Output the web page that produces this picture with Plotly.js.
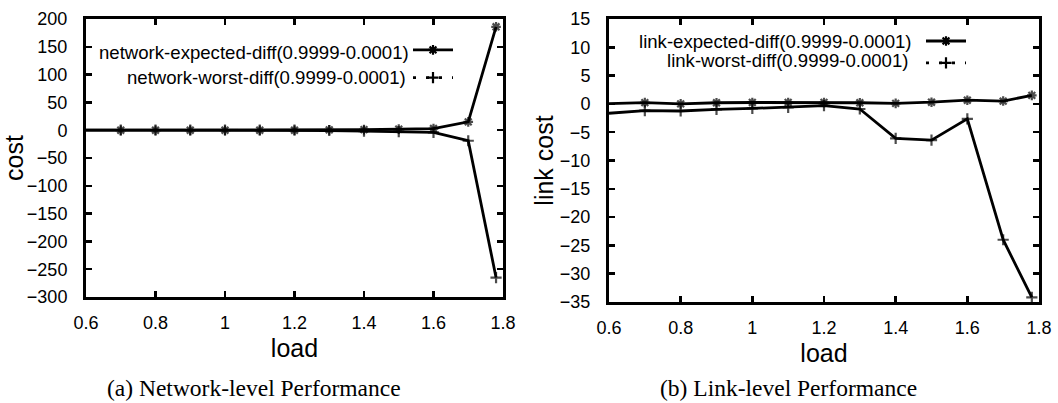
<!DOCTYPE html>
<html><head><meta charset="utf-8">
<script src="https://cdn.plot.ly/plotly-3.0.1.min.js"></script>
<style>html,body{margin:0;padding:0;background:#fff}#chart{width:1058px;height:403px}</style>
</head><body><div id="chart"></div><script>
// ---- data ----
const load = [0.6, 0.7, 0.8, 0.9, 1.0, 1.1, 1.2, 1.3, 1.4, 1.5, 1.6, 1.7, 1.78];
const networkExpected = [0, 0, 0, 0, 0, 0, 0, 0.5, 1, 2, 3, 15, 186];
const networkWorst    = [0, 0, 0, 0, 0, 0, 0, -0.5, -1.5, -2.5, -4, -19, -265];
const linkExpected = [0.05, 0.23, 0.0, 0.2, 0.25, 0.25, 0.25, 0.2, 0.1, 0.3, 0.65, 0.5, 1.5];
const linkWorst    = [-1.65, -1.2, -1.25, -0.95, -0.8, -0.6, -0.3, -0.9, -6.1, -6.4, -2.65, -24, -34.2];
const xTicks = [0.6, 0.8, 1.0, 1.2, 1.4, 1.6, 1.8];
const netLegend = ['network-expected-diff(0.9999-0.0001)', 'network-worst-diff(0.9999-0.0001)'];
const linkLegend = ['link-expected-diff(0.9999-0.0001)', 'link-worst-diff(0.9999-0.0001)'];
const captions = ['(a) Network-level Performance', '(b) Link-level Performance'];
const yTitles = ['cost', 'link cost'];
const xTitle = 'load';

// ---- styles ----
const W = 1058, H = 403;
const SANS = 'Liberation Sans, Arial, Helvetica, sans-serif';
const SERIF = 'Liberation Serif, Times New Roman, serif';
const firstHidden = load.map((v, i) => i === 0 ? 0 : 8);
function px(x) { return x / W; }
function py(y) { return 1 - y / H; }

function series(x, y, xa, ya, symbol, name) {
  return {x: x, y: y, xaxis: xa, yaxis: ya, type: 'scatter', mode: 'lines+markers',
    name: name, showlegend: false, hoverinfo: 'x+y',
    line: {color: '#000', width: 2.8},
    marker: {symbol: symbol, size: firstHidden, color: '#000', line: {color: '#000', width: 2.2}}};
}
function legendSample(legend, symbol, dash) {
  return {x: [null], y: [null], type: 'scatter', mode: 'lines+markers', name: '',
    legend: legend, showlegend: true, hoverinfo: 'skip',
    line: {color: '#000', width: 2.8, dash: dash},
    marker: {symbol: symbol, size: 8, color: '#000', line: {color: '#000', width: 2.2}}};
}

const traces = [
  series(load, networkExpected, 'x', 'y', 'asterisk-open', netLegend[0]),
  series(load, networkWorst, 'x', 'y', 'cross-thin-open', netLegend[1]),
  series(load, linkExpected, 'x2', 'y2', 'asterisk-open', linkLegend[0]),
  series(load, linkWorst, 'x2', 'y2', 'cross-thin-open', linkLegend[1]),
  legendSample('legend', 'asterisk-open', 'solid'),
  legendSample('legend', 'cross-thin-open', '3px,10px'),
  legendSample('legend2', 'asterisk-open', 'solid'),
  legendSample('legend2', 'cross-thin-open', '3px,10px')
];

function xAxis(domain, anchor) {
  return {domain: domain, anchor: anchor, range: [0.6, 1.8], tickvals: xTicks,
    ticks: 'inside', ticklen: 6, tickwidth: 2.5, tickcolor: '#000', mirror: 'ticks',
    showline: true, linecolor: '#000', linewidth: 3, showgrid: false, zeroline: false,
    ticklabelstandoff: 7, tickfont: {family: SANS, size: 18, color: '#000'},
    title: {text: xTitle, standoff: 8, font: {family: SANS, size: 25, color: '#000'}},
    automargin: false, fixedrange: true};
}
function yAxis(domain, anchor, range, dtick, title, standoff) {
  return {domain: domain, anchor: anchor, range: range, dtick: dtick, tick0: 0,
    ticks: 'inside', ticklen: 6, tickwidth: 2.5, tickcolor: '#000', mirror: 'ticks',
    showline: true, linecolor: '#000', linewidth: 3, showgrid: false, zeroline: false,
    ticklabelstandoff: 12, tickfont: {family: SANS, size: 18, color: '#000'},
    title: {text: title, standoff: standoff, font: {family: SANS, size: 25, color: '#000'}},
    automargin: false, fixedrange: true};
}

function legendBox(x, y, size) {
  return {x: x, y: y, xanchor: 'left', yanchor: 'middle', bgcolor: 'rgba(0,0,0,0)',
    borderwidth: 0, itemwidth: 40, font: {family: SANS, size: size, color: '#000'},
    tracegroupgap: 0, itemclick: false, itemdoubleclick: false};
}
function label(text, x, y, size, family, anchor, yanchor) {
  return {text: text, xref: 'paper', yref: 'paper', x: px(x), y: py(y),
    xanchor: anchor, yanchor: yanchor || 'middle', showarrow: false, borderpad: 0,
    font: {family: family, size: size, color: '#000'}};
}

const layout = {
  width: W, height: H, margin: {l: 0, r: 0, t: 0, b: 0},
  paper_bgcolor: '#fff', plot_bgcolor: '#fff', showlegend: true,
  xaxis: xAxis([px(86), px(503)], 'y'),
  yaxis: yAxis([py(297), py(19)], 'x', [-300, 200], 50, yTitles[0], 0),
  xaxis2: xAxis([px(609), px(1039)], 'y2'),
  yaxis2: yAxis([py(302), py(19)], 'x2', [-35, 15], 5, yTitles[1], 0),
  legend: legendBox(px(408), py(64), 19),
  legend2: legendBox(px(921), py(52), 14.6),
  annotations: [
    label(netLegend[0], 410, 52, 18.6, SANS, 'right'),
    label(netLegend[1], 407, 77, 18.6, SANS, 'right'),
    label(linkLegend[0], 913, 42, 18.6, SANS, 'right'),
    label(linkLegend[1], 910, 61, 18.6, SANS, 'right'),
    label(captions[0], 254, 402, 23.5, SERIF, 'center', 'bottom'),
    label(captions[1], 788, 402, 23.5, SERIF, 'center', 'bottom')
  ]
};

Plotly.newPlot('chart', traces, layout, {staticPlot: true, displayModeBar: false});
</script></body></html>
